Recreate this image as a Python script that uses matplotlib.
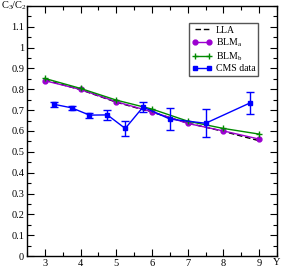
import matplotlib
matplotlib.use("Agg")
import matplotlib.pyplot as plt
from matplotlib.ticker import MultipleLocator

# theory curves at integer Y
y_theory = [3, 4, 5, 6, 7, 8, 9]
lla = [0.845, 0.798, 0.738, 0.690, 0.638, 0.598, 0.553]
blm_a = [0.841, 0.799, 0.740, 0.692, 0.636, 0.600, 0.561]
blm_b = [0.852, 0.804, 0.748, 0.705, 0.647, 0.612, 0.585]

# CMS measurement
y_cms = [3.25, 3.75, 4.25, 4.75, 5.25, 5.75, 6.5, 7.5, 8.75]
cms = [0.728, 0.711, 0.676, 0.677, 0.612, 0.715, 0.657, 0.637, 0.735]
cms_err = [0.012, 0.010, 0.012, 0.025, 0.034, 0.025, 0.052, 0.066, 0.053]

plt.rcParams["font.family"] = ["Liberation Serif", "DejaVu Serif"]
plt.rcParams["mathtext.fontset"] = "custom"
plt.rcParams["mathtext.rm"] = "Liberation Serif"
plt.rcParams["mathtext.it"] = "Liberation Serif:italic"

fig = plt.figure(figsize=(2.81, 2.67), dpi=100)
ax = fig.add_axes([0.096, 0.041, 0.89, 0.937])

ax.plot(y_theory, lla, ls=(0, (4, 2)), color="black", lw=1.0, label="LLA")
ax.plot(y_theory, blm_a, color="#9b00d0", lw=1.0, marker="o", ms=3.5, label="BLM$_\\mathrm{a}$")
ax.plot(y_theory, blm_b, color="#008a00", lw=1.0, marker="+", ms=5, mew=1.0, label="BLM$_\\mathrm{b}$")
ax.errorbar(y_cms, cms, yerr=cms_err, fmt="none", ecolor="#0000ff", capsize=2.8, elinewidth=1.0)
ax.plot(y_cms, cms, color="#0000ff", lw=1.0, marker="s", ms=2.5, label="CMS data")

ax.set_xlim(2.5, 9.5)
ax.set_ylim(0, 1.2)
ax.xaxis.set_major_locator(MultipleLocator(1))
ax.xaxis.set_minor_locator(MultipleLocator(0.5))
ax.yaxis.set_minor_locator(MultipleLocator(0.05))
ax.set_yticks([0, 0.1, 0.2, 0.3, 0.4, 0.5, 0.6, 0.7, 0.8, 0.9, 1, 1.1])
ax.set_yticklabels(["0", "0.1", "0.2", "0.3", "0.4", "0.5", "0.6", "0.7", "0.8", "0.9", "1", "1.1"])
ax.tick_params(which="both", direction="in", top=True, right=True, labelsize=7.5, pad=2)
ax.tick_params(which="major", length=5, width=0.8)
ax.tick_params(which="minor", length=3, width=0.8)
for s in ax.spines.values():
    s.set_linewidth(1.0)

leg = ax.legend(loc="upper right", bbox_to_anchor=(0.924, 0.932), borderaxespad=0, fontsize=7,
                fancybox=False, edgecolor="#555555", handlelength=2.0, handletextpad=0.4,
                borderpad=0.3, labelspacing=0.15, framealpha=1, numpoints=2)
leg.get_frame().set_linewidth(1.0)

fig.text(0.003, 0.978, "C$_3$/C$_2$", fontsize=7.5, ha="left", va="center")
fig.text(0.985, 0.018, "Y", fontsize=7.5, ha="center", va="center")

fig.savefig("out.png", dpi=100)
